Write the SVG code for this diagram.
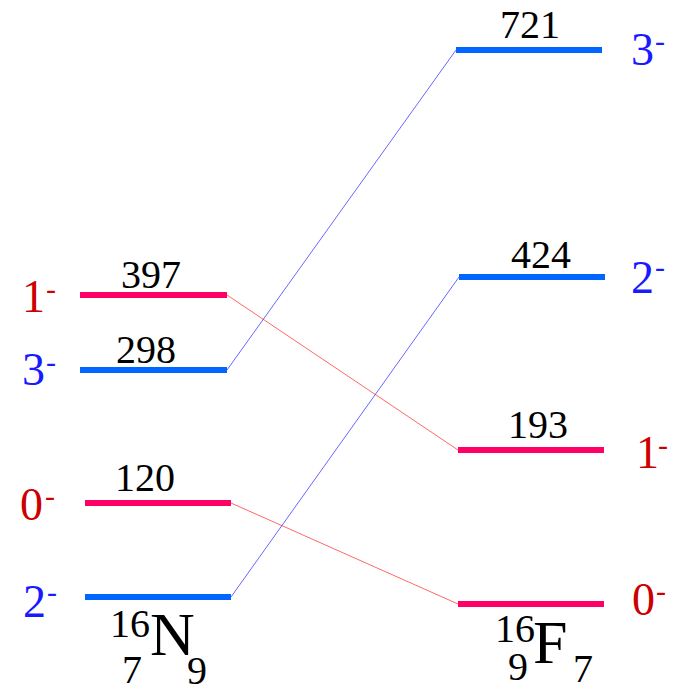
<svg xmlns="http://www.w3.org/2000/svg" width="674" height="685" viewBox="0 0 674 685">
<style>
text{font-family:'Liberation Serif','DejaVu Serif',serif}
.lvlm{stroke:#FF0066;stroke-width:6}
.lvlb{stroke:#0066FF;stroke-width:6}
.num{font-size:40px;fill:#000;text-anchor:middle}
.sr{font-size:46px;fill:#CC0000}
.sb{font-size:46px;fill:#1A1AFF}
.supr{font-size:30px;fill:#CC0000}
.supb{font-size:30px;fill:#1A1AFF}
.cr{stroke:#FF0000;stroke-width:0.6;fill:none}
.cb{stroke:#0000FF;stroke-width:0.6;fill:none}
.nuc{fill:#000}
</style>
<rect width="674" height="685" fill="#fff"/>
<g id="connectors">
<line class="cb" x1="227" y1="370" x2="456" y2="50"/>
<line class="cb" x1="231" y1="597" x2="459" y2="277"/>
<line class="cr" x1="227" y1="295" x2="458" y2="450"/>
<line class="cr" x1="231" y1="503" x2="458" y2="604"/>
</g>
<g id="n16-397">
<line class="lvlm" x1="80" y1="295" x2="227" y2="295"/>
<text class="num" x="151" y="288">397</text>
<text class="sr" x="22" y="312">1</text><text class="supr" x="46" y="299">-</text>
</g>
<g id="n16-298">
<line class="lvlb" x1="80" y1="370" x2="227" y2="370"/>
<text class="num" x="146" y="363">298</text>
<text class="sb" x="22" y="385">3</text><text class="supb" x="46" y="372">-</text>
</g>
<g id="n16-120">
<line class="lvlm" x1="85" y1="503" x2="231" y2="503"/>
<text class="num" x="145" y="491">120</text>
<text class="sr" x="20" y="520">0</text><text class="supr" x="45" y="506">-</text>
</g>
<g id="n16-0">
<line class="lvlb" x1="85" y1="597" x2="231" y2="597"/>
<text class="sb" x="23" y="617">2</text><text class="supb" x="47" y="602">-</text>
</g>
<g id="f16-721">
<line class="lvlb" x1="456" y1="50" x2="602" y2="50"/>
<text class="num" x="530" y="38">721</text>
<text class="sb" x="631" y="65">3</text><text class="supb" x="655" y="51">-</text>
</g>
<g id="f16-424">
<line class="lvlb" x1="459" y1="277" x2="605" y2="277"/>
<text class="num" x="541" y="268">424</text>
<text class="sb" x="631" y="293">2</text><text class="supb" x="655" y="277">-</text>
</g>
<g id="f16-193">
<line class="lvlm" x1="458" y1="450" x2="604" y2="450"/>
<text class="num" x="538" y="438">193</text>
<text class="sr" x="636" y="468">1</text><text class="supr" x="658" y="455">-</text>
</g>
<g id="f16-0">
<line class="lvlm" x1="458" y1="604" x2="604" y2="604"/>
<text class="sr" x="632" y="615">0</text><text class="supr" x="656" y="601">-</text>
</g>
<g id="label-N16">
<text class="nuc" x="110" y="637" font-size="40">16</text>
<text class="nuc" x="150" y="655" font-size="62">N</text>
<text class="nuc" x="122" y="683" font-size="40">7</text>
<text class="nuc" x="187" y="684" font-size="40">9</text>
</g>
<g id="label-F16">
<text class="nuc" x="495" y="642" font-size="40">16</text>
<text class="nuc" x="533" y="663" font-size="62">F</text>
<text class="nuc" x="508" y="680" font-size="40">9</text>
<text class="nuc" x="573" y="682" font-size="40">7</text>
</g>
</svg>
